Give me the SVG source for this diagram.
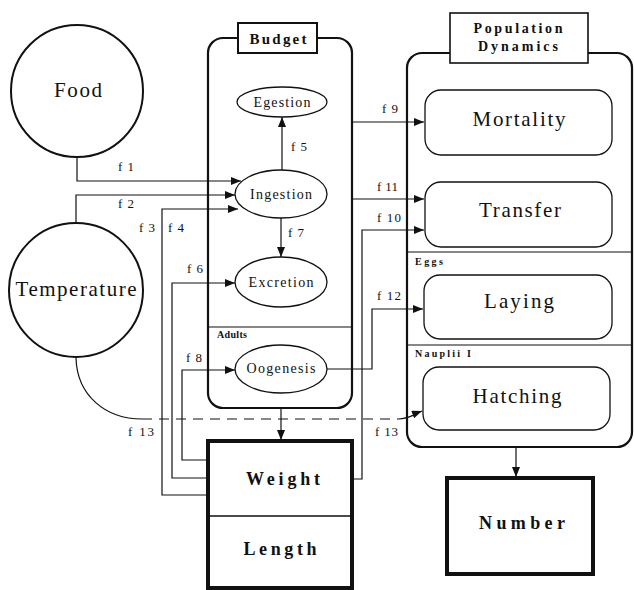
<svg xmlns="http://www.w3.org/2000/svg" width="634" height="590" viewBox="0 0 634 590">
<style>
text{font-family:"Liberation Serif","Times New Roman",serif;fill:#111}
.big{font-size:21px}
.mid{font-size:14px}
.lab{font-size:13px;letter-spacing:1px}
.b{font-weight:bold}
.sm{font-size:10px;font-weight:bold;letter-spacing:1px}
.circ{fill:#fff;stroke:#111;stroke-width:2}
.ell{fill:#fff;stroke:#111;stroke-width:1.3}
.rr{fill:#fff;stroke:#111;stroke-width:1.3}
.cont{fill:none;stroke:#111;stroke-width:2.2}
.lbox{fill:#fff;stroke:#111;stroke-width:1.6}
.thick{fill:#fff;stroke:#111;stroke-width:4}
.ln{fill:none;stroke:#111;stroke-width:1.2}
.arr{fill:none;stroke:#111;stroke-width:1.2;marker-end:url(#ah)}
</style>
<defs>
<marker id="ah" viewBox="0 0 10 8" refX="10" refY="4" markerWidth="10" markerHeight="8" markerUnits="userSpaceOnUse" orient="auto">
<path d="M0,0 L10,4 L0,8 Z" fill="#111"/>
</marker>
</defs>
<rect width="634" height="590" fill="#fff"/>

<g id="budget">
<rect class="cont" x="208" y="38" width="144" height="370" rx="15"/>
<line class="ln" x1="208" y1="327" x2="352" y2="327"/>
<rect class="lbox" x="238" y="23" width="79" height="30" style="stroke-width:2"/>
<text class="b" x="278" y="44" font-size="15" text-anchor="middle" textLength="57" lengthAdjust="spacing">Budget</text>
<text class="sm" x="217" y="338" textLength="31" lengthAdjust="spacing">Adults</text>
</g>

<g id="popdyn">
<rect class="cont" x="407" y="53" width="225" height="394" rx="15"/>
<line class="ln" x1="407" y1="252" x2="632" y2="252"/>
<line class="ln" x1="407" y1="345" x2="632" y2="345"/>
<rect class="lbox" x="450" y="13" width="138" height="50"/>
<text class="b" x="518" y="33" font-size="14" text-anchor="middle" textLength="89" lengthAdjust="spacing">Population</text>
<text class="b" x="518" y="51" font-size="14" text-anchor="middle" textLength="80" lengthAdjust="spacing">Dynamics</text>
<text class="sm" x="415" y="265" textLength="28" lengthAdjust="spacing" style="letter-spacing:0">Eggs</text>
<text class="sm" x="415" y="357" textLength="57" lengthAdjust="spacing">Nauplii I</text>
</g>

<g id="food">
<circle class="circ" cx="77" cy="91" r="66"/>
<text class="big" x="78" y="97" text-anchor="middle" textLength="48" lengthAdjust="spacing">Food</text>
</g>

<g id="temperature">
<circle class="circ" cx="76" cy="290" r="67"/>
<text class="big" x="76" y="296" text-anchor="middle" textLength="121" lengthAdjust="spacing">Temperature</text>
</g>

<g id="egestion">
<ellipse class="ell" cx="282" cy="102" rx="45" ry="15"/>
<text class="mid" x="282" y="107" text-anchor="middle" textLength="57" lengthAdjust="spacing">Egestion</text>
</g>

<g id="ingestion">
<ellipse class="ell" cx="281" cy="194" rx="46" ry="24"/>
<text class="mid" x="281" y="199" text-anchor="middle" textLength="62" lengthAdjust="spacing">Ingestion</text>
</g>

<g id="excretion">
<ellipse class="ell" cx="281" cy="282" rx="46" ry="25"/>
<text class="mid" x="281" y="287" text-anchor="middle" textLength="65" lengthAdjust="spacing">Excretion</text>
</g>

<g id="oogenesis">
<ellipse class="ell" cx="281" cy="369" rx="46" ry="24"/>
<text class="mid" x="281" y="373" text-anchor="middle" textLength="69" lengthAdjust="spacing">Oogenesis</text>
</g>

<g id="mortality">
<rect class="rr" x="425" y="90" width="187" height="65" rx="16"/>
<text class="big" x="519" y="126" text-anchor="middle" textLength="93" lengthAdjust="spacing">Mortality</text>
</g>

<g id="transfer">
<rect class="rr" x="425" y="182" width="187" height="65" rx="16"/>
<text class="big" x="520" y="217" text-anchor="middle" textLength="82" lengthAdjust="spacing">Transfer</text>
</g>

<g id="laying">
<rect class="rr" x="424" y="275" width="188" height="64" rx="16"/>
<text class="big" x="519" y="308" text-anchor="middle" textLength="70" lengthAdjust="spacing">Laying</text>
</g>

<g id="hatching">
<rect class="rr" x="423" y="367" width="187" height="63" rx="16"/>
<text class="big" x="517" y="403" text-anchor="middle" textLength="89" lengthAdjust="spacing">Hatching</text>
</g>

<g id="weightlength">
<rect class="thick" x="208" y="441" width="144" height="147"/>
<line x1="208" y1="516" x2="352" y2="516" stroke="#111" stroke-width="1.3"/>
<text class="b" x="283" y="485" font-size="18" text-anchor="middle" textLength="74" lengthAdjust="spacing">Weight</text>
<text class="b" x="280" y="555" font-size="18" text-anchor="middle" textLength="73" lengthAdjust="spacing">Length</text>
</g>

<g id="number">
<rect class="thick" x="447" y="478" width="146" height="96"/>
<text class="b" x="522" y="529" font-size="18" text-anchor="middle" textLength="86" lengthAdjust="spacing">Number</text>
</g>

<g id="connectors">
<path class="arr" d="M77,157 V181 H241"/>
<path class="arr" d="M76,223 V195 H235"/>
<path class="arr" d="M207,495 H162 V209 H238"/>
<path class="arr" d="M207,478 H172 V283 H235"/>
<path class="arr" d="M207,460 H182 V370 H235"/>
<path class="arr" d="M282,170 V117"/>
<path class="arr" d="M281,218 V257"/>
<path class="arr" d="M352,122 H424"/>
<path class="arr" d="M352,199 H424"/>
<path class="arr" d="M352,479 H362 V230 H424"/>
<path class="arr" d="M327,369 H372 V309 H423"/>
<path class="arr" d="M281,409 V440"/>
<path class="arr" d="M516,448 V477"/>
<path class="ln" d="M76,358 C77,395 105,419 142,419"/>
<path class="ln" d="M142,419 H398" stroke-dasharray="10,7"/>
<path class="arr" d="M398,419 C410,419 414,414 422,411"/>
<text class="lab" x="118" y="171">f 1</text>
<text class="lab" x="118" y="208">f 2</text>
<text class="lab" x="139" y="232">f 3</text>
<text class="lab" x="168" y="232">f 4</text>
<text class="lab" x="291" y="151">f 5</text>
<text class="lab" x="187" y="273">f 6</text>
<text class="lab" x="288" y="237">f 7</text>
<text class="lab" x="186" y="362">f 8</text>
<text class="lab" x="382" y="113">f 9</text>
<text class="lab" x="377" y="222" textLength="25" lengthAdjust="spacing">f 10</text>
<text class="lab" x="377" y="191" textLength="22" lengthAdjust="spacing">f 11</text>
<text class="lab" x="377" y="300" textLength="25" lengthAdjust="spacing">f 12</text>
<text class="lab" x="128" y="436" textLength="27" lengthAdjust="spacing">f 13</text>
<text class="lab" x="375" y="436" textLength="24" lengthAdjust="spacing">f 13</text>
</g>
</svg>
